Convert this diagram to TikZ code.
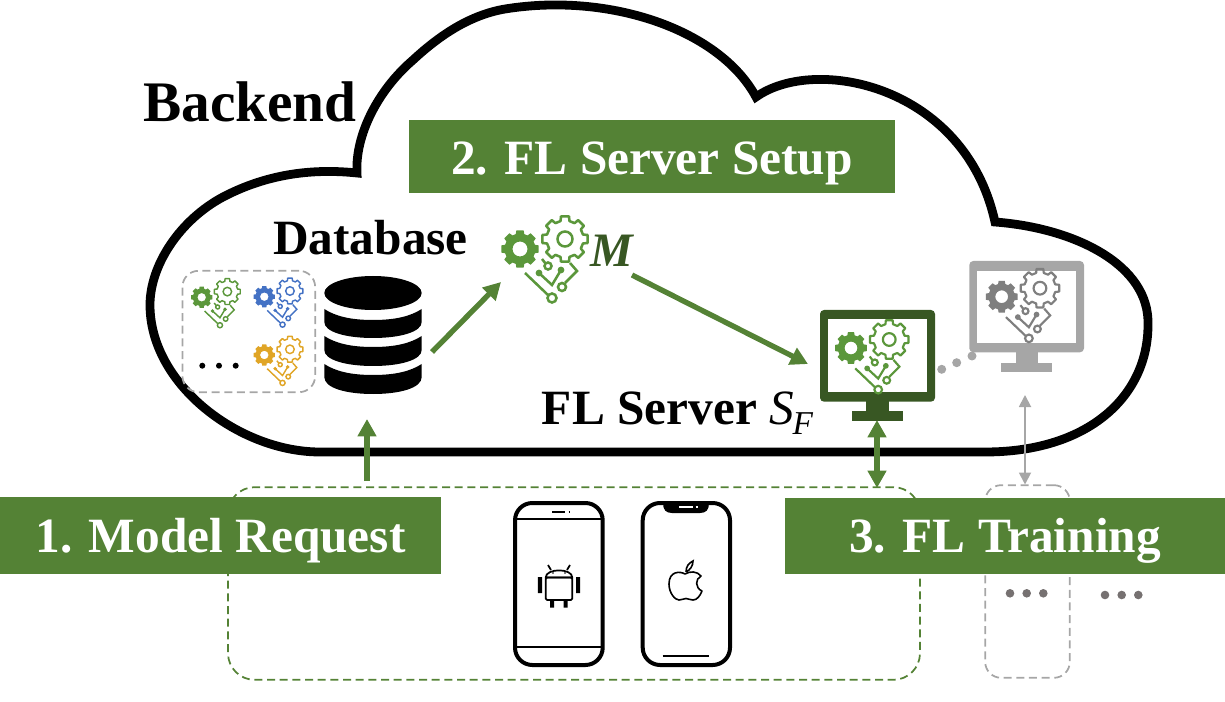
\documentclass[tikz,border=0pt]{standalone}
\usepackage{fontspec}
\setmainfont{Liberation Serif}
\usetikzlibrary{arrows.meta}
\definecolor{band}{HTML}{548235}
\definecolor{leaf}{HTML}{5B973B}
\definecolor{dgreen}{HTML}{385723}
\definecolor{grayA}{HTML}{A6A6A6}
\definecolor{grayB}{HTML}{7F7F7F}
\definecolor{blueI}{HTML}{4472C4}
\definecolor{yelI}{HTML}{E0A526}
\definecolor{dotc}{HTML}{767171}
\tikzset{
  bandbox/.style={fill=band,text=white,font=\fontsize{37}{37}\selectfont\bfseries,inner sep=0pt,anchor=center},
  blacktext/.style={text=black,font=\fontsize{37}{37}\selectfont\bfseries,inner sep=0pt,anchor=base west},
  flow/.style={draw=band,line width=4pt,-{Triangle[length=13pt,width=13.5pt]}},
  flowup/.style={draw=band,line width=4.8pt,-{Triangle[length=13pt,width=13.5pt]}},
  flowboth/.style={draw=band,line width=4.8pt,{Triangle[length=13pt,width=13.5pt]}-{Triangle[length=13pt,width=13.5pt]}},
  grayboth/.style={draw=grayA,line width=1.4pt,{Triangle[length=9pt,width=9pt]}-{Triangle[length=9pt,width=9pt]}},
  dashgreen/.style={draw=band,line width=1.3pt,dash pattern=on 6pt off 3.5pt,rounded corners=20pt},
  dashgray/.style={draw=grayA,line width=1.3pt,dash pattern=on 6pt off 3.5pt,rounded corners=12pt},
  phone/.style={draw=black,line width=3pt,rounded corners=13pt},
  thin phone/.style={draw=black,line width=1.8pt},
}
% outer radius, inner radius, half tooth angle at tip, at root
\newcommand{\mygear}[4]{%
  (-#4:#2) \foreach \a in {0,45,...,315}{
    -- ({\a-#4}:#2) -- ({\a-#3}:#1) -- ({\a+#3}:#1) -- ({\a+#4}:#2) } -- cycle}
% x, y (solid gear centre), scale, colour solid, colour outline
\newcommand{\fedicon}[5]{%
\begin{scope}[shift={(#1,#2)},scale=#3]
  \pgfmathsetmacro{\lw}{#3*1.9}
  \fill[#4,even odd rule] \mygear{19}{15.5}{11}{16} (0,0) circle[radius=7.5];
  \begin{scope}[shift={(45,-10)}]
    \draw[#5,line width=\lw pt,line join=round] \mygear{23}{18.5}{10}{14};
    \draw[#5,line width=\lw pt] (0,0) circle[radius=7.5];
  \end{scope}
  \draw[#5,line width=\lw pt] (5,24) -- (28,46);
  \draw[#5,line width=\lw pt] (32,49) circle[radius=4.5];
  \draw[#5,line width=\lw pt] (28,17) circle[radius=3.5];
  \draw[#5,line width=\lw pt] (22,10) -- (25.5,14.5);
  \draw[#5,line width=\lw pt] (19,24) -- (32,36) -- (41,21);
  \fill[#5] (19,24) circle[radius=3.4] (41,21) circle[radius=3.4];
  \draw[#5,line width=\lw pt] (50,14) -- (57,22) -- (45,34);
  \draw[#5,line width=\lw pt] (42,38) circle[radius=4];
\end{scope}}
\begin{document}
\begin{tikzpicture}[x=0.75pt,y=-0.75pt]
\useasboundingbox (0,0) rectangle (1225,702);
% cloud
\draw[line width=6.6pt,line join=miter,miter limit=4]
  (357,173) .. controls (355,135) and (378,90) .. (413,60)
  .. controls (440,35) and (470,15) .. (505,9)
  .. controls (610,-8) and (720,30) .. (756,97)
  .. controls (815,55) and (965,85) .. (995,222)
  .. controls (1075,228) and (1150,265) .. (1148,325)
  .. controls (1148,395) and (1090,452) .. (985,452)
  -- (320,452)
  .. controls (240,452) and (150,385) .. (150,305)
  .. controls (150,265) and (180,220) .. (223,197)
  .. controls (265,175) and (310,168) .. (357,173) -- cycle;
% named anchors
\coordinate (dbOut) at (432,352);
\coordinate (mIn) at (501,282);
\coordinate (mOut) at (632,275);
\coordinate (srvIn) at (808,364);
\coordinate (reqTop) at (367,481);
\coordinate (dbIn) at (367,419);
\coordinate (srvBase) at (877,420);
\coordinate (devTop) at (877,488);
\coordinate (grayTop) at (1025,395);
\coordinate (grayBot) at (1025,484.5);
% dashed groups
\node[dashgreen,minimum width=519pt,minimum height=144.5pt,inner sep=0pt] (devices) at (574,583.5) {};
\node[dashgray,minimum width=63.5pt,minimum height=144.5pt,inner sep=0pt] (others) at (1027.5,581.5) {};
\node[dashgray,minimum width=99.5pt,minimum height=91pt,inner sep=0pt] (modelset) at (248.8,331.5) {};
% database
\fill[black] (373,293) ellipse[x radius=48.7,y radius=17];
\fill[black] (324.3,309) .. controls (335,316) and (350,320) .. (373,320) .. controls (396,320) and (411,316) .. (421.7,309)
  -- (421.7,322) .. controls (421.7,332) and (400,338) .. (373,338) .. controls (346,338) and (324.3,332) .. (324.3,322) -- cycle;
\fill[black] (324.3,336) .. controls (335,343) and (350,347) .. (373,347) .. controls (396,347) and (411,343) .. (421.7,336)
  -- (421.7,350) .. controls (421.7,360) and (400,366) .. (373,366) .. controls (346,366) and (324.3,360) .. (324.3,350) -- cycle;
\fill[black] (324.3,364) .. controls (335,371) and (350,375) .. (373,375) .. controls (396,375) and (411,371) .. (421.7,364)
  -- (421.7,377) .. controls (421.7,388) and (400,394) .. (373,394) .. controls (346,394) and (324.3,388) .. (324.3,377) -- cycle;
% icons in the model set
\fedicon{201.7}{297.3}{0.57}{leaf}{leaf}
\fedicon{264.3}{296.7}{0.57}{blueI}{blueI}
\fedicon{264.3}{355}{0.57}{yelI}{yelI}
\fill[black] (202.3,365.7) circle[radius=3] (219,365.7) circle[radius=3] (235.7,365.7) circle[radius=3];
% model icon
\fedicon{520}{249}{1}{leaf}{leaf}
\node[inner sep=0pt,anchor=base,text=dgreen,font=\fontsize{36}{36}\selectfont\bfseries\itshape] (M) at (612,267) {M};
% gray monitor
\fill[grayA,rounded corners=3pt] (969.3,261) rectangle (1084,352.3);
\fill[white] (977.3,270.7) rectangle (1075.7,342.7);
\fill[grayA] (1015.7,352) rectangle (1038.3,363);
\fill[grayA] (1000.7,362.7) rectangle (1052.3,372);
\fedicon{1001.7}{296.7}{0.85}{grayB}{grayB}
\fill[grayA] (941.7,369.3) circle[radius=4.5] (956.7,362.7) circle[radius=4.5] (972,356) circle[radius=4.5];
% green monitor
\fill[dgreen,rounded corners=3pt] (820,310) rectangle (935,401.7);
\fill[white] (828.3,319.3) rectangle (926.7,391.7);
\fill[dgreen] (866,401) rectangle (889.3,412);
\fill[dgreen] (851.7,411) rectangle (903.3,421);
\fedicon{851}{348}{0.85}{leaf}{leaf}
% arrows
\draw[flow] (dbOut) -- (mIn);
\draw[flow] (mOut) -- (srvIn);
\draw[flowup] (reqTop) -- (dbIn);
\draw[flowboth] (srvBase) -- (devTop);
\draw[grayboth] (grayTop) -- (grayBot);
% phones
\draw[phone] (515,503) rectangle (602.7,665);
\draw[thin phone] (516,519) -- (602,519) (516,647) -- (602,647);
\draw[black,line width=1.6pt] (552,511.7) -- (565,511.7) (568.5,511.7) -- (570,511.7);
% android logo
\begin{scope}[black,line width=1.3pt,line join=round]
  \draw[rounded corners=1pt] (545.7,577.5) rectangle (572.3,600);
  \draw (545.7,577.5) .. controls (545.7,568) and (572.3,568) .. (572.3,577.5) -- cycle;
  \draw (548,565) -- (551,570) (570,565) -- (567,570);
  \fill (553,573) circle[radius=.8] (565,573) circle[radius=.8];
  \fill (537.8,577) rectangle (542.2,593) (576,577) rectangle (580.2,593);
  \fill (550,600) rectangle (554,607.5) (563.5,600) rectangle (567.7,607.5);
\end{scope}
\draw[phone] (642.7,503) rectangle (730,665);
\fill[black] (663,503) -- (709,503) .. controls (709,510) and (706,513) .. (700,513) -- (672,513) .. controls (666,513) and (663,510) .. (663,503) -- cycle;
\draw[white,line width=1.2pt] (679,506.7) -- (692.5,506.7) (695.5,506.7) -- (697.5,506.7);
\draw[black,line width=1.8pt] (662.7,655.7) -- (709.3,655.7);
% apple logo
\draw[black,line width=1.2pt,line join=round]
  (685,574) .. controls (680,571) and (669,571) .. (669,584)
  .. controls (669,593) and (675,600) .. (679,600)
  .. controls (682,600) and (684,598.5) .. (686,598.5)
  .. controls (688,598.5) and (690,600) .. (693,600)
  .. controls (697,600) and (700,596) .. (702,591)
  .. controls (695,588) and (695,579) .. (701,576)
  .. controls (697,571) and (690,571) .. (685,574) -- cycle;
\draw[black,line width=1.2pt] (686,572) .. controls (686,566) and (689,563) .. (693,561) .. controls (693,566) and (690,570) .. (686,572);
% bands
\node[bandbox,minimum width=364.5pt,text height=41.25pt,text depth=13.5pt] (setup) at (652,156.5) {2. FL Server Setup};
\node[bandbox,minimum width=330.75pt,text height=41.8pt,text depth=16pt] (request) at (220.5,535.5) {1. Model Request};
\node[bandbox,minimum width=330pt,text height=41pt,text depth=16pt] (training) at (1005,536) {3. FL Training};
% dots
\fill[dotc] (1010,593.3) circle[radius=4.3] (1026.7,593.3) circle[radius=4.3] (1043.3,593.3) circle[radius=4.3];
\fill[dotc] (1105,595) circle[radius=4.3] (1121.7,595) circle[radius=4.3] (1138.3,595) circle[radius=4.3];
% labels
\node[blacktext,font=\fontsize{43}{43}\selectfont\bfseries] (backend) at (143,121.7) {Backend};
\node[blacktext] (database) at (273,254.3) {Database};
\node[blacktext] (server) at (541.7,424.3) {FL Server};
\node[inner sep=0pt,anchor=base west,font=\fontsize{37}{37}\selectfont\itshape] (sf) at (769,424.3) {S\raisebox{-8pt}{\hspace{-1pt}\fontsize{25}{25}\selectfont F}};
\end{tikzpicture}
\end{document}
